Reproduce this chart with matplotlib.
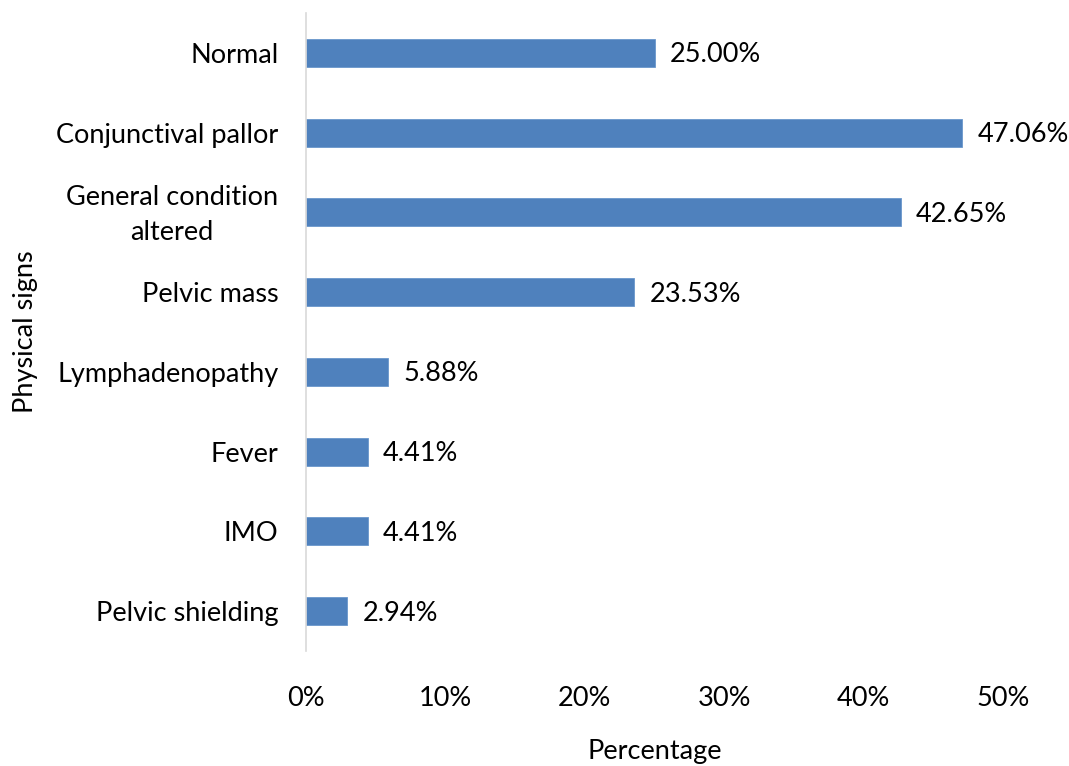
import matplotlib
matplotlib.use("Agg")
import matplotlib.pyplot as plt
from matplotlib.ticker import FuncFormatter
from matplotlib.transforms import offset_copy, ScaledTranslation

categories = ["Normal", "Conjunctival pallor", "General condition\naltered",
              "Pelvic mass", "Lymphadenopathy", "Fever", "IMO", "Pelvic shielding"]
values = [25.00, 47.06, 42.65, 23.53, 5.88, 4.41, 4.41, 2.94]
x_ticks = [0, 10, 20, 30, 40, 50]

plt.rcParams["font.family"] = ["Lato", "DejaVu Sans"]
FS = 19.5

fig = plt.figure(figsize=(10.69, 7.66), dpi=100)
ax = fig.add_axes([0.2863, 0.1501, 0.6520, 0.8329])

ypos = list(range(len(categories)))
ax.barh(ypos, values, height=0.35, color="#4F81BD", edgecolor="#6A97CC", linewidth=0.6)
ax.set_ylim(len(categories) - 0.5, -0.5)
ax.set_xlim(0, 50)

ax.set_yticks(ypos)
ax.set_yticklabels(categories, fontsize=FS, multialignment="center", linespacing=1.5)
ax.set_xticks(x_ticks)
ax.xaxis.set_major_formatter(FuncFormatter(lambda v, p: f"{v:.0f}%"))
ax.tick_params(axis="x", labelsize=FS, length=0, pad=25)
ax.tick_params(axis="y", length=0, pad=20)

# nudge the two-line label up so it sits centred on its bar
for lbl in ax.get_yticklabels():
    if "\n" in lbl.get_text():
        lbl.set_transform(lbl.get_transform() + ScaledTranslation(0, 0.05, fig.dpi_scale_trans))

for s in ("top", "right", "bottom"):
    ax.spines[s].set_visible(False)
ax.spines["left"].set_color("#D9D9D9")
ax.spines["left"].set_linewidth(1.2)

for y, v in zip(ypos, values):
    tr = offset_copy(ax.transData, fig=fig, x=11, y=-1.5, units="points")
    ax.text(v, y, f"{v:.2f}%", transform=tr, va="center", ha="left", fontsize=FS)

ax.set_xlabel("Percentage", fontsize=FS, labelpad=20)
ax.set_ylabel("Physical signs", fontsize=FS, labelpad=13)

fig.savefig("out.png", dpi=100, facecolor="white")
